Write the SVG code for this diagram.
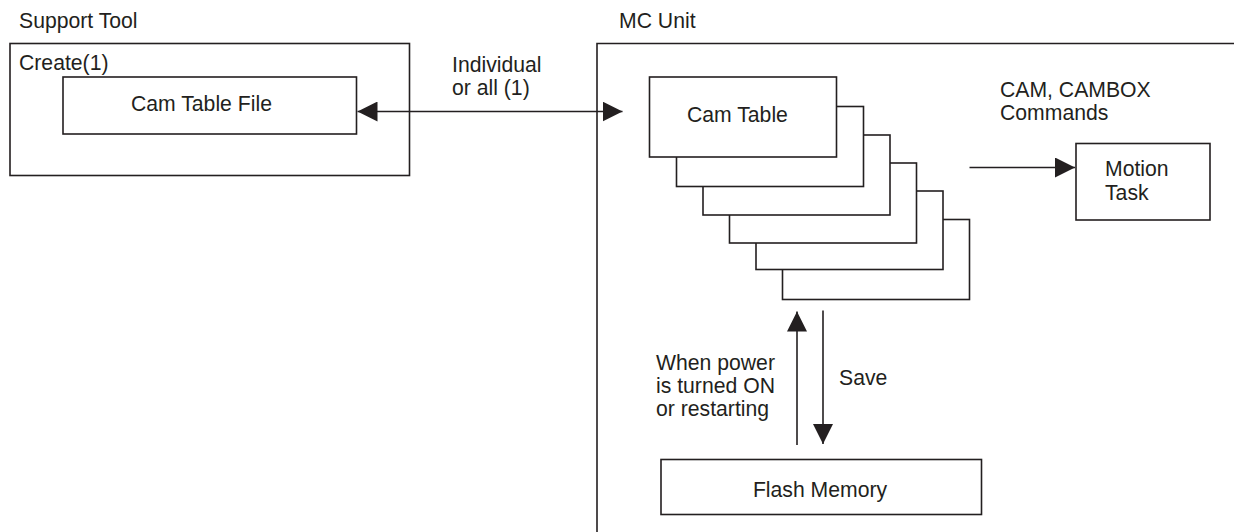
<svg xmlns="http://www.w3.org/2000/svg" width="1234" height="532" viewBox="0 0 1234 532">
  <style>
    .box { fill: #ffffff; stroke: #231f20; stroke-width: 1.6; }
    .line { fill: none; stroke: #231f20; stroke-width: 1.6; }
    .t { font-family: "Liberation Sans", Arial, sans-serif; font-size: 21.2px; fill: #231f20; }
  </style>
  <defs>
    <marker id="arrow" markerUnits="userSpaceOnUse" markerWidth="20" markerHeight="20" refX="20" refY="10" orient="auto-start-reverse" viewBox="0 0 20 20">
      <path d="M0,0 L20,10 L0,20 Z" fill="#231f20"/>
    </marker>
  </defs>
  <rect width="1234" height="532" fill="#ffffff"/>

  <g id="support-tool">
    <text class="t" x="19" y="28">Support Tool</text>
    <rect class="box" x="10" y="43.5" width="399.5" height="132"/>
    <text class="t" x="19" y="70">Create(1)</text>
  </g>

  <g id="cam-table-file">
    <rect class="box" x="63" y="77" width="293.5" height="57"/>
    <text class="t" x="131" y="111">Cam Table File</text>
  </g>

  <g id="mc-unit">
    <text class="t" x="619" y="28">MC Unit</text>
    <path class="line" d="M597,540 L597,43.5 L1240,43.5"/>
  </g>

  <g id="cam-table">
    <rect class="box" x="782.5" y="219.5" width="187" height="80"/>
    <rect class="box" x="756" y="191" width="187" height="78.5"/>
    <rect class="box" x="729.5" y="163" width="187" height="80"/>
    <rect class="box" x="703" y="135" width="187" height="80"/>
    <rect class="box" x="676.5" y="106.5" width="187" height="80"/>
    <rect class="box" x="649.5" y="77" width="187" height="80"/>
    <text class="t" x="687" y="121.5">Cam Table</text>
  </g>

  <g id="motion-task">
    <rect class="box" x="1076" y="143.5" width="134" height="76.5"/>
    <text class="t" x="1105" y="175.5">Motion</text>
    <text class="t" x="1105" y="200">Task</text>
  </g>

  <g id="flash-memory">
    <rect class="box" x="661" y="459.5" width="320.5" height="55"/>
    <text class="t" x="820" y="496.5" text-anchor="middle">Flash Memory</text>
  </g>

  <g id="connectors">
    <line class="line" x1="357.5" y1="111.5" x2="622.5" y2="111.5" marker-start="url(#arrow)" marker-end="url(#arrow)"/>
    <text class="t" x="452" y="71.5">Individual</text>
    <text class="t" x="452" y="95">or all (1)</text>

    <line class="line" x1="969.5" y1="167.5" x2="1075" y2="167.5" marker-end="url(#arrow)"/>
    <text class="t" x="1000" y="97">CAM, CAMBOX</text>
    <text class="t" x="1000" y="120">Commands</text>

    <line class="line" x1="797" y1="445" x2="797" y2="311.5" marker-end="url(#arrow)"/>
    <text class="t" x="656" y="370">When power</text>
    <text class="t" x="656" y="393">is turned ON</text>
    <text class="t" x="656" y="416">or restarting</text>

    <line class="line" x1="823" y1="310.5" x2="823" y2="444" marker-end="url(#arrow)"/>
    <text class="t" x="839" y="385">Save</text>
  </g>
</svg>
